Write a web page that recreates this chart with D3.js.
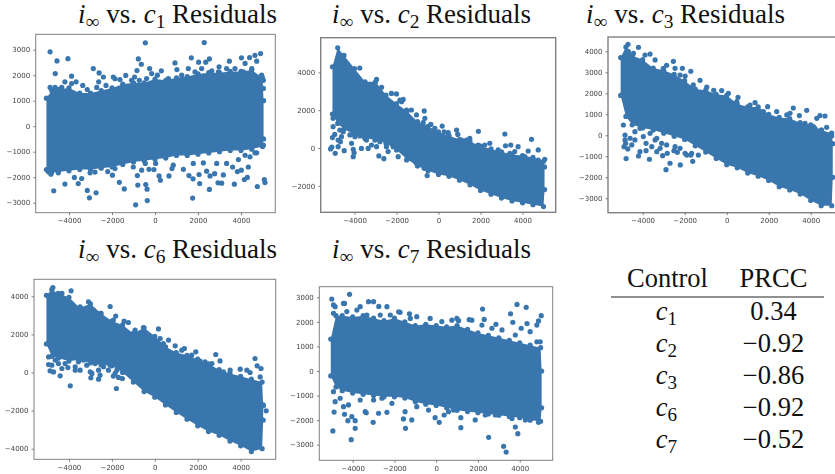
<!DOCTYPE html>
<html>
<head>
<meta charset="utf-8">
<script src="https://cdn.jsdelivr.net/npm/d3@7"></script>
<style>
  html, body { margin: 0; background: #fff; overflow: hidden; }
  svg { display: block; }
  .serif { font-family: "Liberation Serif", serif; fill: #111; }
  .plot { filter: blur(0.35px); }
  .axis text { font-family: "DejaVu Sans", sans-serif; font-size: 7px; fill: #444; }
  .axis line { stroke: #555; stroke-width: 0.7; }
  .axis .domain { display: none; }
</style>
</head>
<body>
<svg id="chart" width="835" height="474"></svg>
<script>
// x positions where the edge of each dense cloud was read
const edgeX = [-5050, -4800, -4500, -4000, -3500, -3000, -2500, -2000, -1500, -1000, -500, 0, 500, 1000, 1500, 2000, 2500, 3000, 3500, 4000, 4500, 5000, 5050];

const c1Upper = [1100, 1400, 1450, 1500, 1300, 1300, 1400, 1500, 1650, 1700, 1700, 1850, 1800, 1900, 1950, 2050, 2100, 2100, 2150, 2150, 2200, 1900, 1000];
const c1Lower = [-1700, -1800, -1800, -1750, -1700, -1700, -1650, -1600, -1500, -1400, -1350, -1300, -1250, -1150, -1150, -1100, -1050, -1000, -950, -950, -900, -800, -500];
const c1OutX = [-4880, -4560, -4050, -4640, -3880, -3360, -2870, -2600, -2400, -1940, -1360, -950, -840, -775, -635, -450, -250, 295, 930, 1020, 1690, 2030, 2290, 2360, 2530, 2980, 3460, 4020, 4400, 4650, 4910, 4730, 4190, -4840, -3750, -3410, -4190, -3570, -4710, -3150, -3050, -2740, -2200, -1980, -1660, -1430, -820, -800, -900, -430, -370, -360, -450, -280, -50, 30, 190, 250, 650, 790, 1320, 1580, 1770, 1750, 2050, 2080, 2530, 2400, 2560, 2775, 2930, 3100, 3180, 3690, 3830, 4015, 4155, 4295, 4760, 5085, 5115, 4650, 4340,
  -4880, -4650, -4340, -4190, -3880, -3670, -3150, -2710, -2620, -2280, -1860, -1630, -1090, -730, -390, -155, 110, 620, 1240, 1550, 1860, 2170, 2640, 2950, 3330, 3720, 4110, 4500, 4960, 5040, 5040,
  -4960, -4500, -3020, -2790, -1860, -1010, -620, 850, 1780, 2250, 2870, 3330, 3610, 3880, 4190, 4420, 4730, 5040];
const c1OutY = [2915, 2560, 2650, 2065, 1960, 1600, 2260, 2090, 1930, 1930, 1990, 1930, 2180, 2640, 2430, 3270, 2260, 2170, 2480, 2220, 2680, 2510, 3280, 2510, 2640, 2330, 2550, 2680, 2690, 2780, 2850, 2550, 2460, -1880, -2010, -2050, -2270, -2250, -2535, -2520, -2810, -2610, -1780, -1920, -2200, -2460, -1935, -2310, -3085, -2290, -2470, -2915, -1460, -1690, -1700, -1460, -1950, -2120, -1950, -1660, -1690, -1935, -2065, -2820, -1895, -2250, -2480, -1765, -1950, -1860, -2220, -2235, -1910, -2275, -1780, -1725, -2090, -2010, -2365, -2090, -2210, -1045, -1600,
  1520, 1520, 1520, 1740, 1670, 1740, 1440, 1520, 1740, 1600, 1860, 1830, 1800, 1800, 1870, 2065, 2000, 1870, 2000, 2260, 2130, 2260, 2170, 2130, 2260, 2260, 2130, 2260, 2000, 1480, 1800,
  -1790, -1830, -1830, -1800, -1660, -1600, -1725, -1530, -1460, -1440, -1460, -1460, -1600, -1310, -1140, -1200, -1045, -745];

const c2Upper = [4300, 5300, 4900, 4200, 3500, 3500, 2800, 2350, 1950, 1400, 1150, 850, 650, 450, 350, 100, -50, -200, -350, -400, -500, -700, -1000];
const c2Lower = [1800, 1300, 1000, 700, 500, 450, 250, -100, -600, -950, -1200, -1400, -1500, -1700, -1950, -2250, -2450, -2650, -2800, -2900, -3000, -3100, -2200];
const c2OutX = [-5140, -5050, -5080, -4920, -5020, -4940, -4670, -4490, -4780, -4060, -4060, -4020, -3670, -3350, -3190, -2840, -2600, -2400, -2950, -3750, -3750, -2950, -2710, -2240, -2000, -1680, -1760, -1290, -680, -650, -365, 175, 270, 860, 920, 1900, 3160, 3190, 3440, 4430, 3790, 5060, -540, -680, 2440, 1890, 1330, 4750, 4270,
  -5020, -4700, -4540, -4380, -4220, -3980, -3750, -3510, -3270, -3030, -2790, -2480, -2160, -4620, -4780, -4140, -3430, -1920, -1520, -1050,
  -1840, -1520, -1050, -730, -175, 460, 1100, 1490, 2200, 2840, 3630, 4110, 4750, 3400];
const c2OutY = [-50, 550, 50, -280, 1130, 720, 335, -140, 70, -70, -460, -250, -20, -20, 160, -420, -565, -190, 70, 3600, 4230, 3630, 3210, 2890, 2860, 2570, 2450, 2010, 1960, 1570, 1250, 1160, 860, 950, 720, 880, 740, 120, 160, 460, 70, -600, -1460, -1075, 250, 160, 420, -100, -160,
  1570, 950, 860, 1130, 690, 600, 635, 565, 635, 420, 335, 70, 70, 600, 420, 245, 420, -460, -635, -810,
  2540, 2010, 1750, 1340, 1040, 810, 420, 510, 160, -100, -190, -460, -635, -280];

const c3Upper = [3700, 4200, 3800, 3600, 3200, 3100, 2900, 2600, 2200, 2150, 1950, 1900, 1500, 1350, 1350, 1000, 850, 800, 600, 500, 250, 100, -400];
const c3Lower = [1900, 900, 500, 350, 250, 100, -50, -200, -500, -800, -1100, -1400, -1550, -1800, -1950, -2150, -2450, -2600, -2800, -3100, -3350, -3350, -2000];
const c3OutX = [-4810, -4790, -4890, -4710, -4200, -4130, -3840, -3680, -3570, -3330, -3050, -2830, -2700, -2890, -2510, -2350, -2210, -1980, -1620, -1710, -4200, -4700, -3650, -3890, -2540, -2860, -2110, -1710, -1270, -1980, -620, -240, 540, 1350, 1950, 3170, 3810, 4440, 4680, 3015, 4290, 3460, 4760, 4200, 5000,
  -4920, -4840, -4840, -4600, -4520, -4370, -4370, -4130, -3970, -3840, -3650, -3410, -3330, -3100, -2860, -2460, -2220, -1900, -1670, -1350, -3170,
  -4680, -4440, -3410, -3020, -2460, -2220, -1590, -950, 80, 480, 1110, 1750, 2380, 2860, 3730, 4130, 4520, 4920];
const c3OutY = [-380, -1110, -540, -650, -985, -780, -730, -1140, -540, -780, -970, -860, -1330, -1635, -730, -810, -1410, -860, -1240, -940, 4190, 4330, 3870, 3825, 3525, 3330, 3190, 3050, 2620, 2825, 2140, 2130, 1810, 1555, 1365, 1300, 1190, 940, 920, 1050, 810, 940, 380, 330, -30,
  490, 15, -220, -140, -460, 175, -220, 330, -60, -380, 95, -220, -140, -380, -460, -540, -620, -940, -860, -940, -620,
  3980, 3900, 3590, 3190, 3190, 2870, 2400, 2290, 2000, 1600, 1440, 1130, 1130, 970, 570, 410, 250, 15];

const c6Upper = [4050, 4350, 4150, 3950, 3400, 3600, 3100, 2700, 2500, 2050, 2350, 1900, 1350, 1050, 900, 700, 450, 150, -50, -200, -350, -500, -1700];
const c6Lower = [1500, 850, 750, 600, 650, 500, 400, 350, 0, -500, -1000, -1300, -1700, -2100, -2450, -2800, -3100, -3300, -3600, -3850, -4150, -4000, -2500];
const c6OutX = [-3940, -1790, -4880, -4720, -4950, -4410, -4330, -4180, -4050, -3710, -3480, -2980, -2620, -2550, -2160, -1930, -1510, -1690, -2930, -3900, -4750, -2080, -1820, -3090, -1430, -1230, 170, -530, 640, 950, 1380, 1910, 2110, 2840, 3040, 3510, 3980, 4670, 4770, 4950, 4440, 5190, 5060,
  -4950, -4800, -4490, -4640, -3940, -3710, -3560, -3320, -3170, -3010, -2780, -2620, -2390, -2080, -1770, -1380, -1850,
  -4330, -3480, -2860, -2550, -1930, -920, -220, 250, 400, 1260, 1720, 2340, 2660, 3200, 4290, 4910];
const c6OutY = [-700, -840, 90, 30, 420, -175, 210, 470, 260, 120, 120, -280, -350, -140, 120, -190, -315, -260, -50, 4290, 4460, 3465, 2960, 3710, 2695, 2625, 2290, 2360, 1700, 1400, 1260, 1085, 595, 945, 610, 120, 175, 735, 350, 210, 0, -2010, -1750,
  820, 385, 470, 650, 820, 300, 560, 650, 385, 35, 470, 120, 300, 385, 120, 210, -50,
  4150, 3450, 3270, 3100, 2750, 2220, 1780, 1780, 1520, 1170, 910, 560, 470, 35, 120, -230];

const c7Upper = [1300, 2250, 2250, 2200, 2250, 2150, 2050, 2150, 2000, 1850, 1900, 1850, 1800, 1850, 1700, 1550, 1450, 1350, 1250, 1150, 1050, 950, 0];
const c7Lower = [-200, -650, -800, -900, -950, -1000, -1050, -1050, -1100, -1250, -1350, -1400, -1500, -1600, -1650, -1700, -1750, -1800, -1850, -1900, -2000, -2050, -1500];
const c7OutX = [-5000, -4150, -4950, -4070, -3880, -4890, -3020, -1470, 1180, 2510, 3230, 3350, 3910, 3790, 1180, 145, -4040, -4390, -4230, -3880, -3350, -2760, -2360, -1570, -1170, -50, 380, 590, 1870, -3240, -3000, -2750, -2360, -1730, -1280, 2220, 2300, 1580, 2860, 3870, 4310, 3560, 3670, 5030, 4900, 4820, 4350, 4070, 1070, -4390, -4920,
  -4920, -4840, -4440, -4280, -3800, -3640, -3320, -2680, -2200, -1800, -1240, -930, -290, 270, 750, 990, 1710, 2190, 2670, 3150, 3790, 4500, 4820, 4980,
  -4920, -4840, -4600, -4440, -4200, -3640, -3400, -3000, -2600, -2120, -1490, -930, -370, 830, 2350, 2830, 3630, 4270, 4900];
const c7OutY = [2930, 3120, -2440, -2795, -2335, -1670, -2090, -2335, -2305, -2700, -3065, -3300, -2550, -2280, -1900, -2090, -1860, -1760, -2020, -2020, -1700, -1720, -1680, -1950, -1990, -1900, -1790, -1655, -1990, 2820, 2820, 2630, 2620, 2390, 2330, 2520, 2100, 2090, 1900, 2710, 2590, 2330, 1980, 2250, 2040, 1870, 1930, 1740, 2050, 2750, 2690,
  2350, 2620, 2750, 2420, 2480, 2620, 2280, 2280, 2280, 2410, 2140, 2210, 2140, 2010, 2070, 2140, 2070, 1870, 1740, 1670, 1465, 1600, 1190, 1190,
  -840, -1250, -1110, -1450, -1380, -1180, -1655, -1180, -1110, -1315, -1655, -1450, -1590, -1590, -1790, -1790, -1930, -1990, -2090];

const xTicks = [-4000, -2000, 0, 2000, 4000];
const c1YTicks = [-3000, -2000, -1000, 0, 1000, 2000, 3000];
const c2YTicks = [-2000, 0, 2000, 4000];
const c3YTicks = [-3000, -2000, -1000, 0, 1000, 2000, 3000, 4000];
const c6YTicks = [-4000, -2000, 0, 2000, 4000];
const c7YTicks = [-3000, -2000, -1000, 0, 1000, 2000, 3000];

const tableControls = ["1", "2", "3", "6", "7"];
const tablePrcc = ["0.34", "\u22120.92", "\u22120.86", "\u22120.92", "\u22120.52"];

const blue = "#3a76ae";
const radius = 2.6;
const svg = d3.select("#chart");

// frame = pixel box of the axes, x0/kx and y0/ky locate zero and the scale per unit
const panels = [
  { sub: "1", titleX: 78, titleY: 23, left: 35.7, right: 275.3, top: 34.3, bottom: 212.7, x0: 155, kx: 0.0215, y0: 126.2, ky: 0.0255, upper: c1Upper, lower: c1Lower, outX: c1OutX, outY: c1OutY, yTicks: c1YTicks, frame: 1 },
  { sub: "2", titleX: 332, titleY: 23, left: 320.7, right: 555.7, top: 37.7, bottom: 212.3, x0: 438.5, kx: 0.021, y0: 148, ky: 0.0189, upper: c2Upper, lower: c2Lower, outX: c2OutX, outY: c2OutY, yTicks: c2YTicks, frame: 1.4 },
  { sub: "3", titleX: 586, titleY: 23, left: 608, right: 843, top: 37, bottom: 212.7, x0: 726.7, kx: 0.021, y0: 135.3, ky: 0.021, upper: c3Upper, lower: c3Lower, outX: c3OutX, outY: c3OutY, yTicks: c3YTicks, frame: 1.4 },
  { sub: "6", titleX: 78, titleY: 258, left: 34, right: 275.7, top: 279.3, bottom: 459.3, x0: 154.8, kx: 0.02146, y0: 372.5, ky: 0.01905, upper: c6Upper, lower: c6Lower, outX: c6OutX, outY: c6OutY, yTicks: c6YTicks, frame: 1 },
  { sub: "7", titleX: 332, titleY: 258, left: 319.3, right: 552.7, top: 286.7, bottom: 460.3, x0: 436.2, kx: 0.02088, y0: 371, ky: 0.02457, upper: c7Upper, lower: c7Lower, outX: c7OutX, outY: c7OutY, yTicks: c7YTicks, frame: 1 },
];

function mathLabel(x, y, anchor, size, parts) {
  const t = svg.append("text").attr("class", "serif").attr("x", x).attr("y", y)
    .attr("text-anchor", anchor).attr("font-size", size);
  parts.forEach((p) => {
    const dy = p.sub ? size * 0.2 : p.back ? -size * 0.2 : 0;
    t.append("tspan").attr("dy", dy)
      .attr("font-style", p.italic ? "italic" : null)
      .attr("font-size", p.sub ? size * 0.72 : size)
      .text(p.text);
  });
}

function drawPanel(p) {
  const x = d3.scaleLinear()
    .domain([(p.left - p.x0) / p.kx, (p.right - p.x0) / p.kx])
    .range([p.left, p.right]);
  const y = d3.scaleLinear()
    .domain([(p.y0 - p.bottom) / p.ky, (p.y0 - p.top) / p.ky])
    .range([p.bottom, p.top]);

  const g = svg.append("g").attr("class", "plot");

  // dense core of the cloud is an area between the two read edges
  const area = d3.area()
    .x((d) => x(d))
    .y0((d, i) => y(p.lower[i]))
    .y1((d, i) => y(p.upper[i]));
  g.append("path").attr("d", area(edgeX)).attr("fill", blue);

  // edge dots make the boundary lumpy, like the scatter
  const edgeDots = edgeX.flatMap((d, i) => [[d, p.upper[i]], [d, p.lower[i]]]);
  const outliers = p.outX.map((d, i) => [d, p.outY[i]]);
  g.selectAll("circle")
    .data(edgeDots.concat(outliers))
    .join("circle")
    .attr("cx", (d) => x(d[0]))
    .attr("cy", (d) => y(d[1]))
    .attr("r", radius)
    .attr("fill", blue);

  g.append("rect")
    .attr("x", p.left).attr("y", p.top)
    .attr("width", p.right - p.left).attr("height", p.bottom - p.top)
    .attr("fill", "none").attr("stroke", "#808080").attr("stroke-width", p.frame);

  g.append("g").attr("class", "axis")
    .attr("transform", `translate(0,${p.bottom})`)
    .call(d3.axisBottom(x).tickValues(xTicks).tickSize(2.5).tickPadding(3).tickFormat(d3.format("d")));
  g.append("g").attr("class", "axis")
    .attr("transform", `translate(${p.left},0)`)
    .call(d3.axisLeft(y).tickValues(p.yTicks).tickSize(2.5).tickPadding(3).tickFormat(d3.format("d")));

  mathLabel(p.titleX, p.titleY, "start", 27, [
    { text: "i", italic: true },
    { text: "\u221e", sub: true },
    { text: " vs. ", back: true },
    { text: "c", italic: true },
    { text: p.sub, sub: true },
    { text: " Residuals", back: true },
  ]);
}

panels.forEach(drawPanel);

// table
const rowY = d3.scaleLinear().domain([0, 4]).range([319.5, 448]);
svg.append("text").attr("class", "serif").attr("x", 667.5).attr("y", 287)
  .attr("text-anchor", "middle").attr("font-size", 26.5).text("Control");
svg.append("text").attr("class", "serif").attr("x", 773.5).attr("y", 287)
  .attr("text-anchor", "middle").attr("font-size", 26.5).text("PRCC");
svg.append("line").attr("x1", 611).attr("x2", 824).attr("y1", 297).attr("y2", 297)
  .attr("stroke", "#222").attr("stroke-width", 1);

tableControls.forEach((c, i) => {
  mathLabel(666.5, rowY(i), "middle", 26.5, [
    { text: "c", italic: true },
    { text: c, sub: true },
  ]);
  svg.append("text").attr("class", "serif").attr("x", 773.5).attr("y", rowY(i))
    .attr("text-anchor", "middle").attr("font-size", 26.5).text(tablePrcc[i]);
});
</script>
</body>
</html>
